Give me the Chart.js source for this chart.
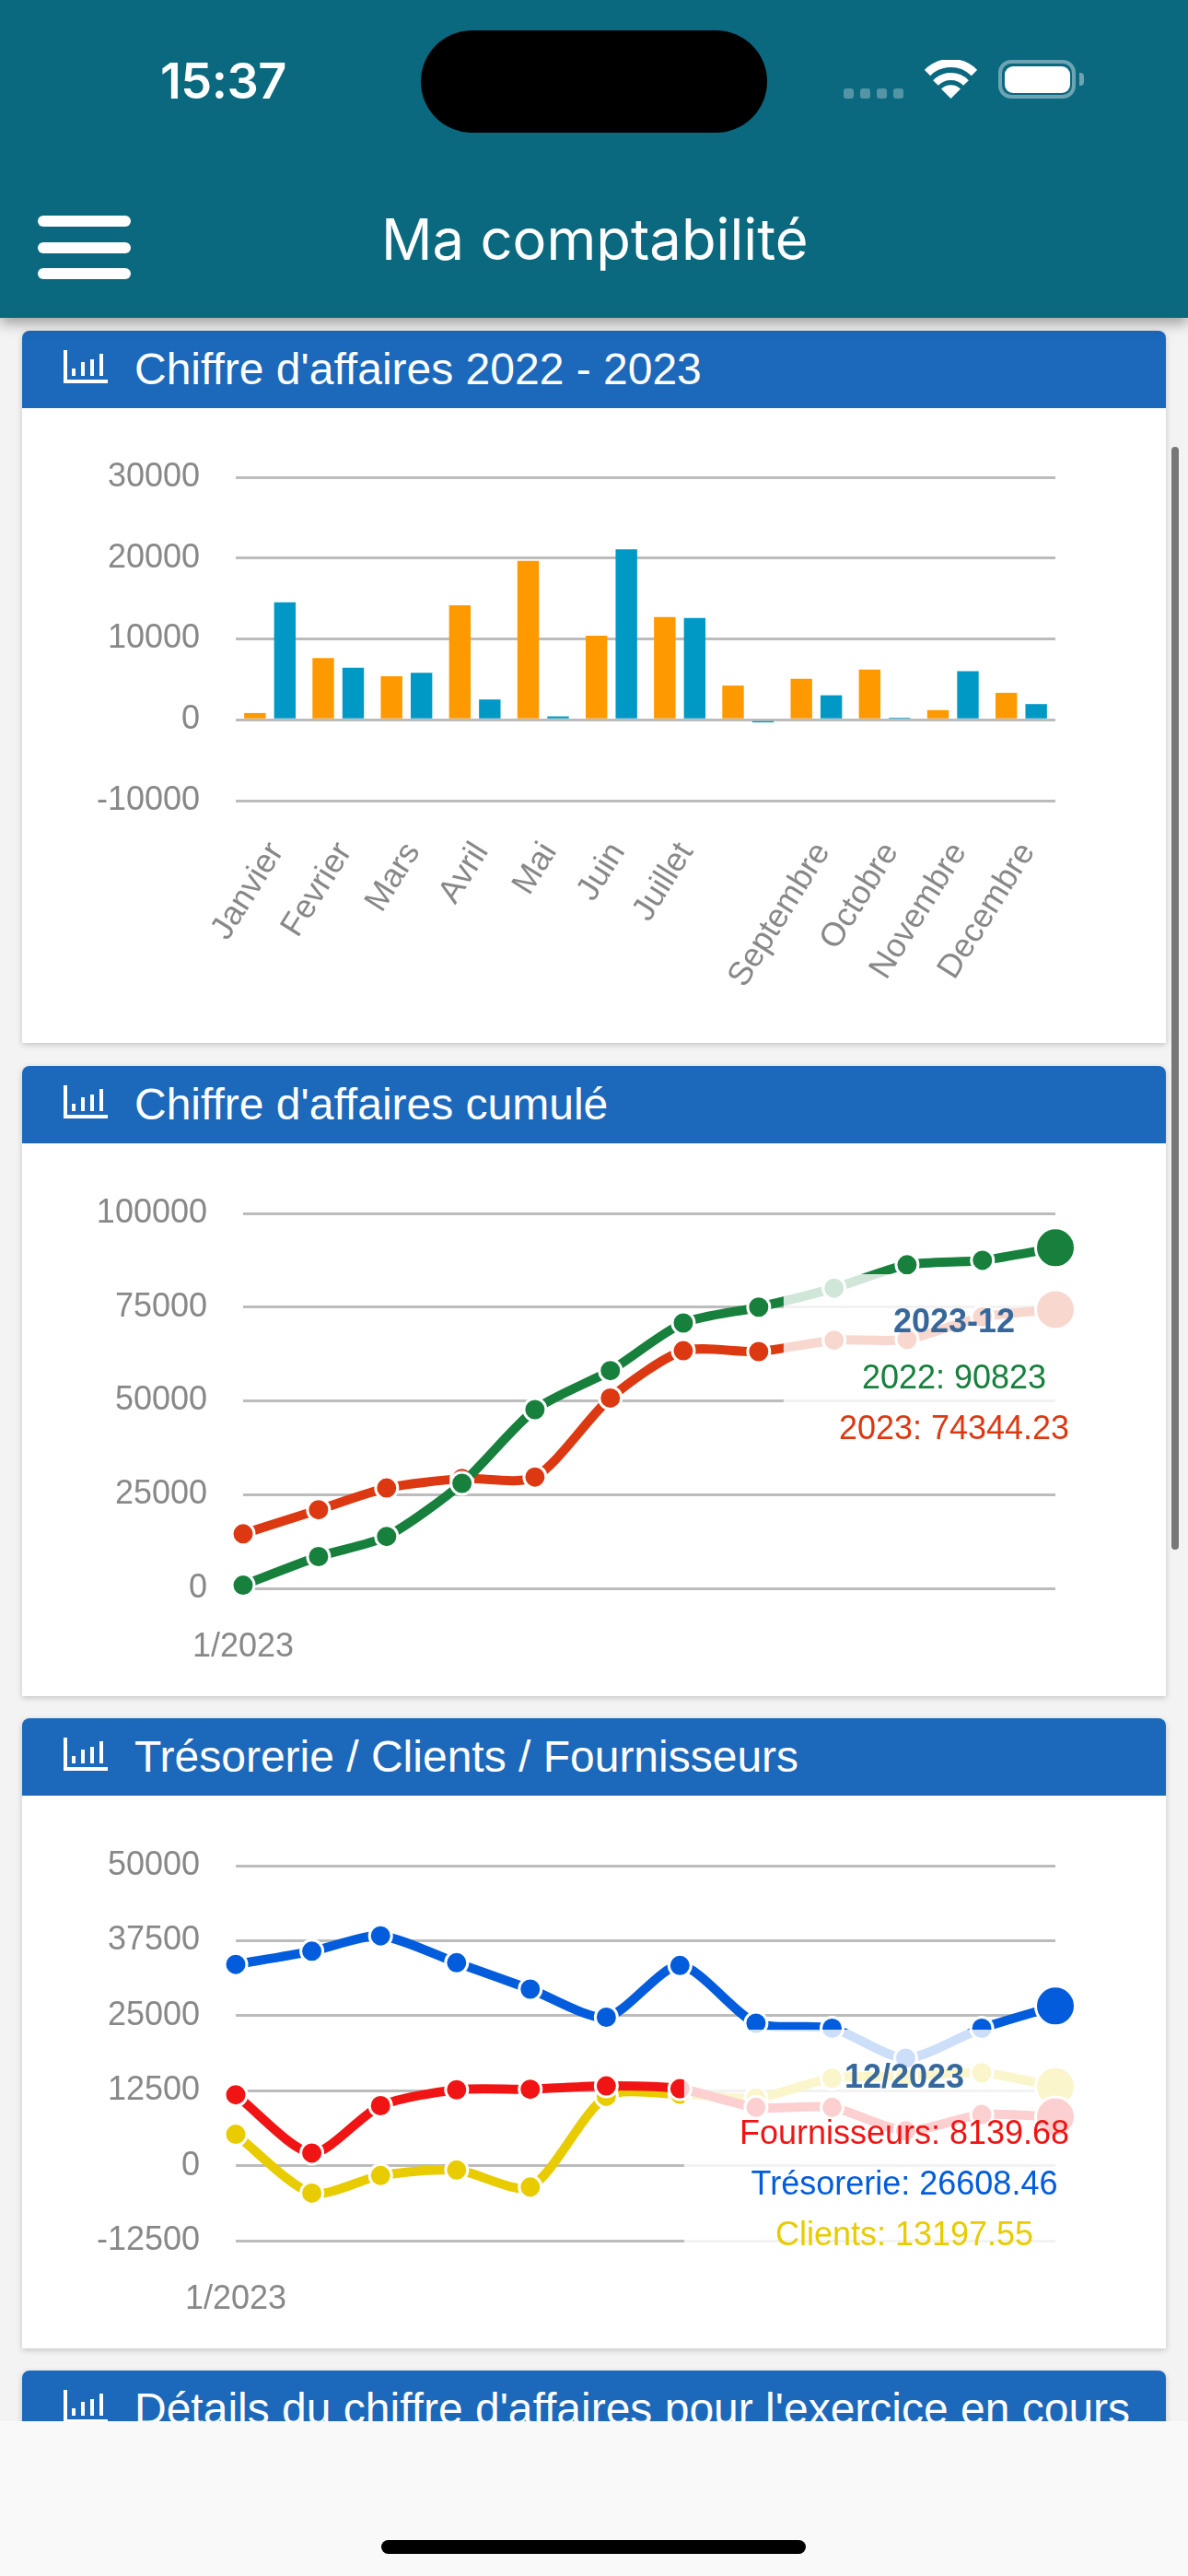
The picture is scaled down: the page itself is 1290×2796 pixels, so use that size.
<!DOCTYPE html>
<html>
<head>
<meta charset="utf-8">
<title>Ma comptabilité</title>
<script src="https://cdn.jsdelivr.net/npm/chart.js@4"></script>
<style>
html, body { margin: 0; padding: 0; width: 1290px; height: 2796px; overflow: hidden; background: #f3f3f3; }
body { position: relative; font-family: "Liberation Sans", Arial, sans-serif; }
.abs { position: absolute; }
.topbar { left: 0; top: 0; width: 1290px; height: 345px; background: #0a687f; box-shadow: 0 6px 14px rgba(0,0,0,0.35); z-index: 3; }
.notch { left: 457px; top: 33px; width: 376px; height: 111px; border-radius: 56px; background: #000; }
.clock { left: 174px; top: 55px; font: 600 54px Inter, sans-serif; color: #fff; letter-spacing: -0.5px; }
.apptitle { left: 414px; top: 222px; font: 400 61.500px Inter, sans-serif; color: #fff; white-space: nowrap; }
.burger { left: 41px; width: 101px; height: 12px; border-radius: 6px; background: #fff; }
.dot { top: 96px; width: 11px; height: 11px; border-radius: 3px; background: rgba(255,255,255,0.3); }
.card { left: 24px; width: 1242px; background: #fff; box-shadow: 0 2px 6px rgba(0,0,0,0.2); border-radius: 8px 8px 0 0; }
.cardhead { left: 0; top: 0; width: 1242px; height: 84px; background: #1c68bb; border-radius: 8px 8px 0 0; color: #fff; }
.cardhead span { position: absolute; left: 122px; top: 15px; font-size: 48px; line-height: 54px; white-space: nowrap; }
.cardhead svg { position: absolute; left: 45px; top: 21px; }
canvas { position: absolute; left: 0; top: 84px; }
.bottombar { left: 0; top: 2628px; width: 1290px; height: 168px; background: #f9f9f9; z-index: 2; }
.home { left: 414px; top: 2757px; width: 461px; height: 15px; border-radius: 8px; background: #000; z-index: 3; }
.scroll { left: 1272px; top: 485px; width: 8px; height: 1197px; border-radius: 4px; background: #777; }
</style>
</head>
<body>
<div class="abs topbar">
  <div class="abs clock">15:37</div>
  <div class="abs notch"></div>
  <div class="abs dot" style="left:916px"></div>
  <div class="abs dot" style="left:934px"></div>
  <div class="abs dot" style="left:952px"></div>
  <div class="abs dot" style="left:970px"></div>
  <svg class="abs" style="left:1004px;top:65px" width="57" height="42" viewBox="0 0 57 42">
    <path d="M28.5 42 L18 31.5 A15 15 0 0 1 39 31.5 Z" fill="#fff"/>
    <path d="M12 25 A23 23 0 0 1 45 25" fill="none" stroke="#fff" stroke-width="8"/>
    <path d="M3 14 A36 36 0 0 1 54 14" fill="none" stroke="#fff" stroke-width="9"/>
  </svg>
  <div class="abs" style="left:1084px;top:65px;width:76px;height:34px;border:4px solid rgba(255,255,255,0.4);border-radius:14px"></div>
  <div class="abs" style="left:1091px;top:72px;width:71px;height:29px;border-radius:9px;background:#fff"></div>
  <div class="abs" style="left:1172px;top:79px;width:5px;height:14px;border-radius:0 4px 4px 0;background:rgba(255,255,255,0.4)"></div>
  <div class="abs burger" style="top:234px"></div>
  <div class="abs burger" style="top:263px"></div>
  <div class="abs burger" style="top:291px"></div>
  <div class="abs apptitle">Ma comptabilité</div>
</div>

<div class="abs card" style="top:359px;height:773px">
  <div class="abs cardhead"><svg width="48" height="36" viewBox="0 0 48 36"><path d="M2 0V34H48M11 20V28M21 13V28M31 10V28M41 4V28" fill="none" stroke="#fff" stroke-width="4"/></svg><span>Chiffre d'affaires 2022 - 2023</span></div>
  <canvas id="caChart" width="1242" height="689"></canvas>
</div>
<div class="abs card" style="top:1157px;height:684px">
  <div class="abs cardhead"><svg width="48" height="36" viewBox="0 0 48 36"><path d="M2 0V34H48M11 20V28M21 13V28M31 10V28M41 4V28" fill="none" stroke="#fff" stroke-width="4"/></svg><span>Chiffre d'affaires cumulé</span></div>
  <canvas id="cumulChart" width="1242" height="601" data-tip-x="1012" data-tip-y="142"></canvas>
</div>
<div class="abs card" style="top:1865px;height:684px">
  <div class="abs cardhead"><svg width="48" height="36" viewBox="0 0 48 36"><path d="M2 0V34H48M11 20V28M21 13V28M31 10V28M41 4V28" fill="none" stroke="#fff" stroke-width="4"/></svg><span>Trésorerie / Clients / Fournisseurs</span></div>
  <canvas id="tresoChart" width="1242" height="601" data-tip-x="958" data-tip-y="254"></canvas>
</div>
<div class="abs card" style="top:2573px;height:120px">
  <div class="abs cardhead"><svg width="48" height="36" viewBox="0 0 48 36"><path d="M2 0V34H48M11 20V28M21 13V28M31 10V28M41 4V28" fill="none" stroke="#fff" stroke-width="4"/></svg><span>Détails du chiffre d'affaires pour l'exercice en cours</span></div>
</div>
<div class="abs scroll"></div>
<div class="abs bottombar"></div>
<div class="abs home"></div>

<script>
const months = ['Janvier', 'Fevrier', 'Mars', 'Avril', 'Mai', 'Juin', 'Juillet', '', 'Septembre', 'Octobre', 'Novembre', 'Decembre'];
const ca2022 = [836, 7630, 5380, 14170, 19650, 10400, 12700, 4230, 5070, 6220, 1200, 3337];
const ca2023 = [14530, 6430, 5800, 2510, 420, 21070, 12600, -320, 3030, 260, 6010, 1944];

// days since 1 Jan 2023, the source axis is a time axis
const monthDays = [0, 31, 59, 90, 120, 151, 181, 212, 243, 273, 304, 334];
const cumul2022 = [836, 8466, 13846, 28016, 47666, 58066, 70766, 74996, 80066, 86286, 87486, 90823];
const cumul2023 = [14530, 20960, 26760, 29270, 29690, 50760, 63360, 63150, 66180, 66390, 72400, 74344.23];

const fournisseurs = [11820, 2100, 9990, 12650, 12740, 13290, 12830, 9710, 9710, 5800, 8520, 8139.68];
const tresorerie = [33540, 35740, 38300, 33820, 29420, 24740, 33360, 23740, 22910, 17900, 22900, 26608.46];
const clients = [5220, -4580, -1650, -730, -3570, 11550, 11910, 11270, 14570, 14890, 15490, 13197.55];

const fontFamily = '"Liberation Sans", Arial, sans-serif';
const tickColor = '#888888';
const gridColor = '#bcbcbc';

Chart.defaults.font.family = fontFamily;
Chart.defaults.font.size = 36;
Chart.defaults.color = tickColor;

Chart.Tooltip.positioners.fixedBox = function () {
    const c = this.chart.canvas;
    return { x: Number(c.dataset.tipX), y: Number(c.dataset.tipY) };
};

function yAxis(min, max, step, width) {
    return {
        min: min,
        max: max,
        afterFit: (scale) => { scale.width = width; },
        border: { display: false },
        grid: { color: gridColor, lineWidth: 3, tickLength: 30, tickColor: 'transparent' },
        ticks: { stepSize: step, padding: 9, color: tickColor, font: { size: 36 }, callback: (v) => String(v) }
    };
}

function dateAxis(label) {
    return {
        type: 'linear',
        min: monthDays[0],
        max: monthDays[monthDays.length - 1],
        afterBuildTicks: (scale) => { scale.ticks = [{ value: monthDays[0] }]; },
        afterFit: (scale) => { scale.height = 118; },
        border: { display: false },
        grid: { display: false, drawTicks: false },
        ticks: { callback: () => label, maxRotation: 0, padding: 42, color: tickColor, font: { size: 36 } }
    };
}

function lineSet(label, values, color) {
    return {
        label: label,
        data: values.map((v, i) => ({ x: monthDays[i], y: v })),
        borderColor: color,
        backgroundColor: color,
        borderWidth: 10,
        tension: 0.25,
        clip: false,
        pointBackgroundColor: color,
        pointBorderColor: '#ffffff',
        pointBorderWidth: 3,
        pointRadius: (ctx) => ctx.dataIndex === values.length - 1 ? 21.5 : 12
    };
}

function lineChart(id, title, datasets, yScale, xLabel) {
    const chart = new Chart(document.getElementById(id), {
        type: 'line',
        data: { datasets: datasets },
        options: {
            responsive: false,
            animation: false,
            devicePixelRatio: 1,
            events: [],
            layout: { padding: { top: 76, right: 120 } },
            scales: { x: dateAxis(xLabel), y: yScale },
            plugins: {
                legend: { display: false },
                tooltip: {
                    position: 'fixedBox',
                    xAlign: 'center',
                    yAlign: 'top',
                    caretSize: 0,
                    caretPadding: 0,
                    cornerRadius: 0,
                    displayColors: false,
                    backgroundColor: 'rgba(255, 255, 255, 0.8)',
                    padding: { left: 60, right: 60, top: 31, bottom: 31 },
                    titleAlign: 'center',
                    bodyAlign: 'center',
                    titleColor: '#36689b',
                    titleFont: { size: 36, weight: 'bold' },
                    bodyFont: { size: 36 },
                    titleMarginBottom: 18,
                    bodySpacing: 12,
                    callbacks: {
                        title: () => title,
                        label: (ctx) => ctx.dataset.label + ': ' + ctx.raw.y,
                        labelTextColor: (ctx) => ctx.dataset.borderColor
                    }
                }
            }
        }
    });
    const last = monthDays.length - 1;
    chart.tooltip.setActiveElements(datasets.map((d, i) => ({ datasetIndex: i, index: last })), { x: 0, y: 0 });
    chart.render();
    return chart;
}

new Chart(document.getElementById('caChart'), {
    type: 'bar',
    data: {
        labels: months,
        datasets: [
            { label: '2022', data: ca2022, backgroundColor: '#ff9900', barPercentage: 0.72, categoryPercentage: 0.876 },
            { label: '2023', data: ca2023, backgroundColor: '#0099c6', barPercentage: 0.72, categoryPercentage: 0.876 }
        ]
    },
    options: {
        responsive: false,
        animation: false,
        devicePixelRatio: 1,
        events: [],
        layout: { padding: { top: 75, right: 120 } },
        scales: {
            x: {
                afterFit: (scale) => { scale.height = 263; },
                border: { display: false },
                grid: { display: false, drawTicks: false },
                ticks: { autoSkip: false, minRotation: 58, maxRotation: 58, padding: 38, labelOffset: 7, color: tickColor, font: { size: 36 } }
            },
            y: yAxis(-10000, 30000, 10000, 232)
        },
        plugins: { legend: { display: false }, tooltip: { enabled: false } }
    }
});

lineChart('cumulChart', '2023-12', [
    lineSet('2022', cumul2022, '#16803c'),
    lineSet('2023', cumul2023, '#dc3912')
], yAxis(0, 100000, 25000, 240), '1/2023');

lineChart('tresoChart', '12/2023', [
    lineSet('Fournisseurs', fournisseurs, '#f01414'),
    lineSet('Trésorerie', tresorerie, '#025cdc'),
    lineSet('Clients', clients, '#e8cc00')
], yAxis(-12500, 50000, 12500, 232), '1/2023');
</script>
</body>
</html>
